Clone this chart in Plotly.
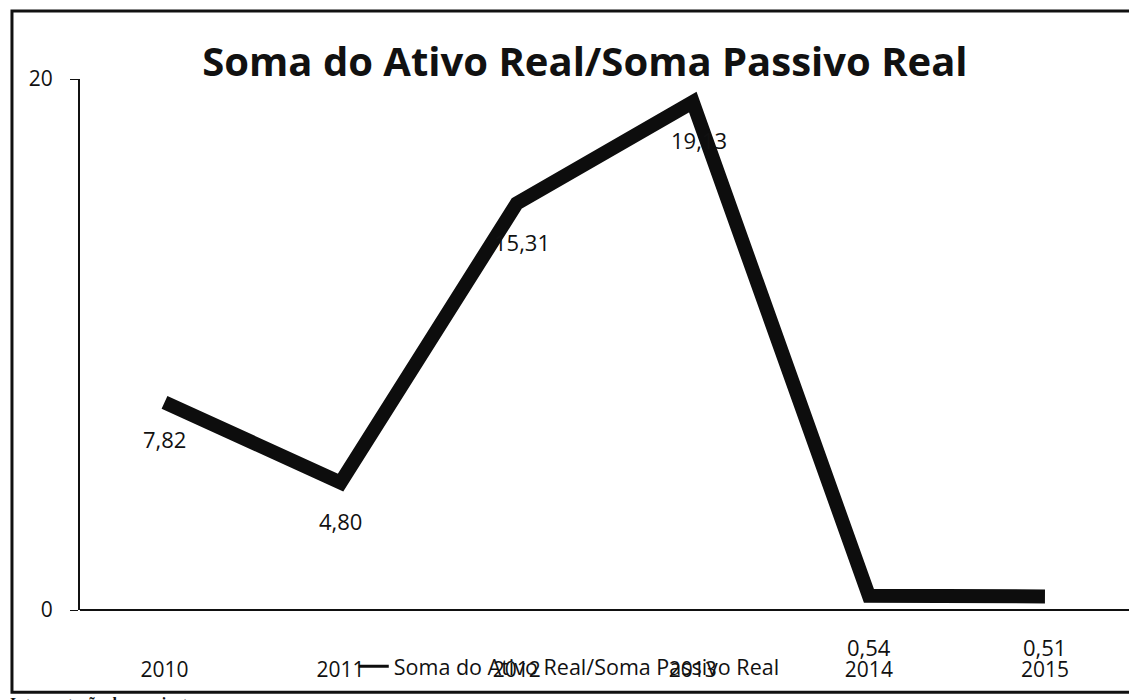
import plotly.graph_objects as go

# data
anos = ['2010', '2011', '2012', '2013', '2014', '2015']
valores = [7.82, 4.80, 15.31, 19.13, 0.54, 0.51]
rotulos = ['7,82', '4,80', '15,31', '19,13', '0,54', '0,51']
serie = 'Soma do Ativo Real/Soma Passivo Real'

fig = go.Figure()
fig.add_trace(go.Scatter(
    x=anos, y=valores, mode='lines', name=serie, showlegend=False,
    line=dict(color='#0d0d0d', width=14),
))
# thin line just for the legend entry
fig.add_trace(go.Scatter(x=[None], y=[None], mode='lines', name=serie,
                         line=dict(color='#0d0d0d', width=3)))

# data labels (category axis -> use index for x)
shifts = [(0, -37), (0, -38), (5, -38), (6, -38), (0, -51), (0, -51)]
for i, (v, t) in enumerate(zip(valores, rotulos)):
    dx, dy = shifts[i]
    fig.add_annotation(x=i, y=v, text=t, showarrow=False, xshift=dx, yshift=dy,
                       font=dict(family='Open Sans', size=22, color='#111'))

# page has 8px body margin -> figure is 8px smaller
fig.update_layout(
    width=1129, height=692,
    paper_bgcolor='white', plot_bgcolor='white',
    margin=dict(l=72, r=4, t=71, b=90),
    title=dict(text='<b>Soma do Ativo Real/Soma Passivo Real</b>', x=0.511, xanchor='center',
               y=0.922, yanchor='middle',
               font=dict(family='Open Sans', size=40, color='#111')),
    showlegend=True,
    legend=dict(orientation='h', x=0.26, y=-0.106, xanchor='left', yanchor='middle',
                bgcolor='rgba(0,0,0,0)', font=dict(family='Open Sans', size=21.5, color='#111')),
    xaxis=dict(type='category', range=[-0.48, 5.5], showgrid=False, showline=False,
               ticks='', ticklabelstandoff=45, automargin=False,
               tickfont=dict(family='Open Sans', size=21, color='#111')),
    yaxis=dict(range=[0, 20], tickvals=[0, 20], ticktext=['0', '20'],
               showgrid=True, gridcolor='#222', gridwidth=2, zeroline=True,
               zerolinecolor='#111', zerolinewidth=2,
               showline=True, linecolor='#111', linewidth=2, automargin=False,
               ticks='outside', ticklen=8, tickcolor='#111', ticklabelstandoff=13,
               tickfont=dict(family='Open Sans', size=21, color='#111')),
)

# scan frame and cut-off page text
fig.add_shape(type='rect', xref='paper', yref='paper', x0=-0.0646, x1=1.007, y0=-0.155, y1=1.128,
              line=dict(color='#111', width=3), fillcolor='rgba(0,0,0,0)')
fig.add_annotation(xref='paper', yref='paper', x=0.63, y=1.132, xanchor='right', yanchor='bottom',
                   text='<b>4.1 Análise da Situação Financeira.</b>', showarrow=False,
                   font=dict(family='Open Sans', size=26, color='#111'))
fig.add_annotation(xref='paper', yref='paper', x=-0.068, y=-0.157, xanchor='left', yanchor='top',
                   text='<b>Interpretação do quociente:</b>', showarrow=False,
                   font=dict(family='Liberation Sans Narrow', size=16, color='#111'))

fig.write_html('out.html')
